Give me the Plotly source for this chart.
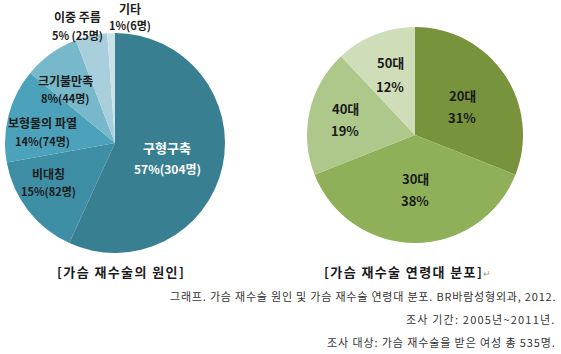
import plotly.graph_objects as go

W, H = 561, 354

# ---- data ----
cause_labels = ["구형구축", "비대칭", "보형물의 파열", "크기불만족", "이중 주름", "기타"]
cause_counts = [304, 82, 74, 44, 25, 6]
cause_pct = [57, 15, 14, 8, 5, 1]

age_labels = ["20대", "30대", "40대", "50대"]
age_pct = [31, 38, 19, 12]

title_left = "[가슴 재수술의 원인]"
title_right = "[가슴 재수술 연령대 분포]"
caption_lines = [
    "그래프. 가슴 재수술 원인 및 가슴 재수술 연령대 분포. BR바람성형외과, 2012.",
    "조사 기간: 2005년~2011년.",
    "조사 대상: 가슴 재수술을 받은 여성 총 535명.",
]

# ---- style ----
cause_colors = ["#397f92", "#3e8ea5", "#4ba2ba", "#78b8cb", "#a8cfdb", "#c8e2ea"]
age_colors = ["#77933c", "#8fb059", "#aec78a", "#d0ddb9"]
FONT = "Noto Sans CJK KR"

# label pixel positions (name line, value line)
cause_label_pos = [(167, 148, 168), (48, 173, 191), (42, 123, 141),
                   (65, 80, 98), (77, 17, 35), (130, 8, 25)]
cause_label_col = ["white", "#1c1c1c", "#1c1c1c", "#1c1c1c", "#1c1c1c", "#1c1c1c"]
cause_name_size = [13, 12, 12, 12, 12, 12]
cause_val_size = [12, 11, 11, 11, 11, 11]

age_label_pos = [(462, 95, 117), (415, 178, 200), (345, 108, 130), (390, 63, 86)]

caption_style = [(296, 0.8), (319, 1.2), (342, 0.9)]  # (y, letter-spacing px)


def px(x):
    return x / W


def py(y):
    return 1 - y / H


fig = go.Figure()

fig.add_trace(go.Pie(
    labels=cause_labels, values=cause_counts, sort=False, direction="clockwise",
    rotation=0, textinfo="none", hoverinfo="label+value",
    marker=dict(colors=cause_colors, line=dict(width=0)),
    domain=dict(x=[px(5), px(225)], y=[py(253), py(33)]),
    showlegend=False,
))
fig.add_trace(go.Pie(
    labels=age_labels, values=age_pct, sort=False, direction="clockwise",
    rotation=0, textinfo="none", hoverinfo="label+percent",
    marker=dict(colors=age_colors, line=dict(width=0)),
    domain=dict(x=[px(307), px(523)], y=[py(243), py(27)]),
    showlegend=False,
))

ann = []
for i, lab in enumerate(cause_labels):
    x, y1, y2 = cause_label_pos[i]
    sep = " " if lab == "이중 주름" else ""
    ann.append(dict(x=px(x), y=py(y1), text=f"<b>{lab}</b>", showarrow=False,
                    xanchor="center", yanchor="middle",
                    font=dict(family=FONT, size=cause_name_size[i], color=cause_label_col[i])))
    ann.append(dict(x=px(x), y=py(y2), text=f"<b>{cause_pct[i]}%{sep}({cause_counts[i]}명)</b>",
                    showarrow=False, xanchor="center", yanchor="middle",
                    font=dict(family=FONT, size=cause_val_size[i], color=cause_label_col[i])))

for i, lab in enumerate(age_labels):
    x, y1, y2 = age_label_pos[i]
    ann.append(dict(x=px(x), y=py(y1), text=f"<b>{lab}</b>", showarrow=False,
                    xanchor="center", yanchor="middle",
                    font=dict(family=FONT, size=13, color="#1a1a1a")))
    ann.append(dict(x=px(x), y=py(y2), text=f"<b>{age_pct[i]}%</b>", showarrow=False,
                    xanchor="center", yanchor="middle",
                    font=dict(family=FONT, size=13, color="#1a1a1a")))

ann.append(dict(x=px(55), y=py(271),
                text=f"<span style='letter-spacing:1.4px'><b>{title_left}</b></span>",
                showarrow=False, xanchor="left", yanchor="middle",
                font=dict(family=FONT, size=13, color="#1a1a1a")))
ann.append(dict(x=px(322), y=py(271),
                text=f"<span style='letter-spacing:1.4px'><b>{title_right}</b></span>"
                     f"<span style='color:#999;font-size:9px'>↵</span>",
                showarrow=False, xanchor="left", yanchor="middle",
                font=dict(family=FONT, size=13, color="#1a1a1a")))

for t, (yy, ls) in zip(caption_lines, caption_style):
    ann.append(dict(x=px(558), y=py(yy),
                    text=f"<span style='letter-spacing:{ls}px'>{t}</span>",
                    showarrow=False, xanchor="right", yanchor="middle",
                    font=dict(family=FONT, size=11, color="#333333")))

fig.update_layout(
    width=W, height=H, margin=dict(l=0, r=0, t=0, b=0),
    paper_bgcolor="white", plot_bgcolor="white",
    annotations=ann,
)

fig.write_html("out.html")
